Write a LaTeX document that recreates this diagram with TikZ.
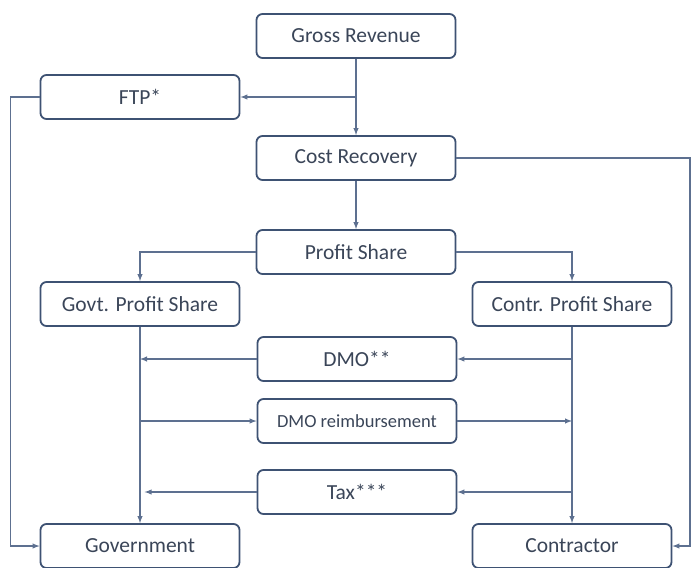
\documentclass[tikz,border=0pt]{standalone}
\usepackage{fontspec}
\setmainfont{Carlito}
\usetikzlibrary{arrows,positioning}
\definecolor{boxline}{HTML}{3E5273}
\definecolor{linkline}{HTML}{5D7090}
\definecolor{boxtext}{HTML}{3A4558}
\tikzset{%
	flowbox/.style = {draw=boxline, line width=1.8pt, rounded corners=6pt, minimum width=199pt, minimum height=44pt, text=boxtext, font=\fontsize{21.5}{24}\selectfont, text centered},
	flow/.style    = {draw=linkline, line width=1.4pt, -latex},
}

\begin{document}
\begin{tikzpicture}[x=1pt,y=-1pt]
	\useasboundingbox (0,0) rectangle (692,567);
	
	\node[flowbox] (gross) at (356,36) {Gross Revenue};
	\node[flowbox] (ftp) at (140,97) {FTP*};
	\node[flowbox] (cost) at (356,158) {Cost Recovery};
	\node[flowbox] (profit) at (356,252) {Profit Share};
	\node[flowbox] (govshare) at (140,304) {Govt. Profit Share};
	\node[flowbox] (conshare) at (572,304) {Contr. Profit Share};
	\node[flowbox] (dmo) at (357,359) {DMO**};
	\node[flowbox, font=\fontsize{18.5}{21}\selectfont] (reimb) at (357,421) {DMO reimbursement};
	\node[flowbox] (tax) at (357,492) {Tax***};
	\node[flowbox] (gov) at (140,546) {Government};
	\node[flowbox] (con) at (572,546) {Contractor};
	
	\draw[flow] (gross) -- (cost);
	\draw[flow] (gross.south |- ftp) -- (ftp);
	\draw[flow] (ftp.west) -- ++(-29,0) |- (gov.west);
	\draw[flow] (cost.east) -- (690,158) |- (con.east);
	\draw[flow] (cost) -- (profit);
	\draw[flow] (profit.west) -| (govshare.north);
	\draw[flow] (profit.east) -| (conshare.north);
	\draw[flow] (govshare) -- (gov);
	\draw[flow] (conshare) -- (con);
	
	\draw[flow] (conshare.south |- dmo) -- (dmo);
	\draw[flow] (dmo.west) -- (govshare.south |- dmo.west);
	\draw[flow] (govshare.south |- reimb) -- (reimb);
	\draw[flow] (reimb.east) -- (conshare.south |- reimb.east);
	\draw[flow] (conshare.south |- tax) -- (tax);
	\draw[flow] (tax.west) -- ++(-112,0);
\end{tikzpicture}
\end{document}
